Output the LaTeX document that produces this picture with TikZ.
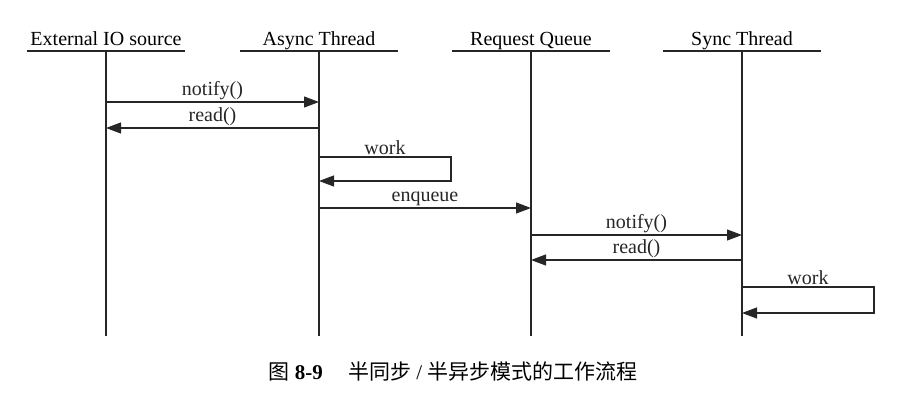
\documentclass[tikz,border=0pt]{standalone}
\usepackage{fontspec}
\setmainfont{Liberation Serif}
\newfontfamily\cjk{Noto Sans CJK SC}
\usetikzlibrary{arrows.meta}
\begin{document}
\begin{tikzpicture}[x=1pt,y=-1pt,
  lbl/.style={font=\fontsize{20}{22}\selectfont},
  head/.style={lbl, anchor=south, minimum width=158pt, inner xsep=0pt, inner ysep=1pt, text height=14pt, text depth=4pt},
  life/.style={line width=1.1pt, black!85},
  msg/.style={line width=1.1pt, black!85, -{Triangle[length=15pt,width=11pt]}},
  mlbl/.style={lbl, above, inner sep=1.5pt}]
\useasboundingbox (0,0) rectangle (905,410);
% lifeline heads
\node[head] (ext) at (106,51) {External IO source};
\node[head] (asy) at (319,51) {Async Thread};
\node[head] (req) at (531,51) {Request Queue};
\node[head] (syn) at (742,51) {Sync Thread};
\foreach \n in {ext,asy,req,syn}{
  \draw[life] (\n.south west) -- (\n.south east);
}
\coordinate (bot) at (0,336);
\foreach \n in {ext,asy,req,syn}{
  \draw[life] (\n.south) -- (\n.south |- bot);
}
% message levels
\coordinate (y1) at (0,102);
\coordinate (y2) at (0,128);
\coordinate (y3) at (0,157);
\coordinate (y4) at (0,181);
\coordinate (y5) at (0,208);
\coordinate (y6) at (0,235);
\coordinate (y7) at (0,260);
\coordinate (y8) at (0,287);
\coordinate (y9) at (0,313);
\coordinate (wa) at (451,0);
\coordinate (ws) at (874,0);
% messages
\draw[msg] (ext |- y1) -- node[mlbl]{notify()} (asy |- y1);
\draw[msg] (asy |- y2) -- node[mlbl]{read()} (ext |- y2);
\draw[msg] (asy |- y3) -- node[mlbl]{work} (wa |- y3) -- (wa |- y4) -- (asy |- y4);
\draw[msg] (asy |- y5) -- node[mlbl]{enqueue} (req |- y5);
\draw[msg] (req |- y6) -- node[mlbl]{notify()} (syn |- y6);
\draw[msg] (syn |- y7) -- node[mlbl]{read()} (req |- y7);
\draw[msg] (syn |- y8) -- node[mlbl]{work} (ws |- y8) -- (ws |- y9) -- (syn |- y9);
% caption
\node[font=\fontsize{21}{24}\selectfont] (cap) at (453,372) {{\cjk 图} \textbf{8-9}\hspace{1.2em}{\cjk 半同步} / {\cjk 半异步模式的工作流程}};
\end{tikzpicture}
\end{document}
